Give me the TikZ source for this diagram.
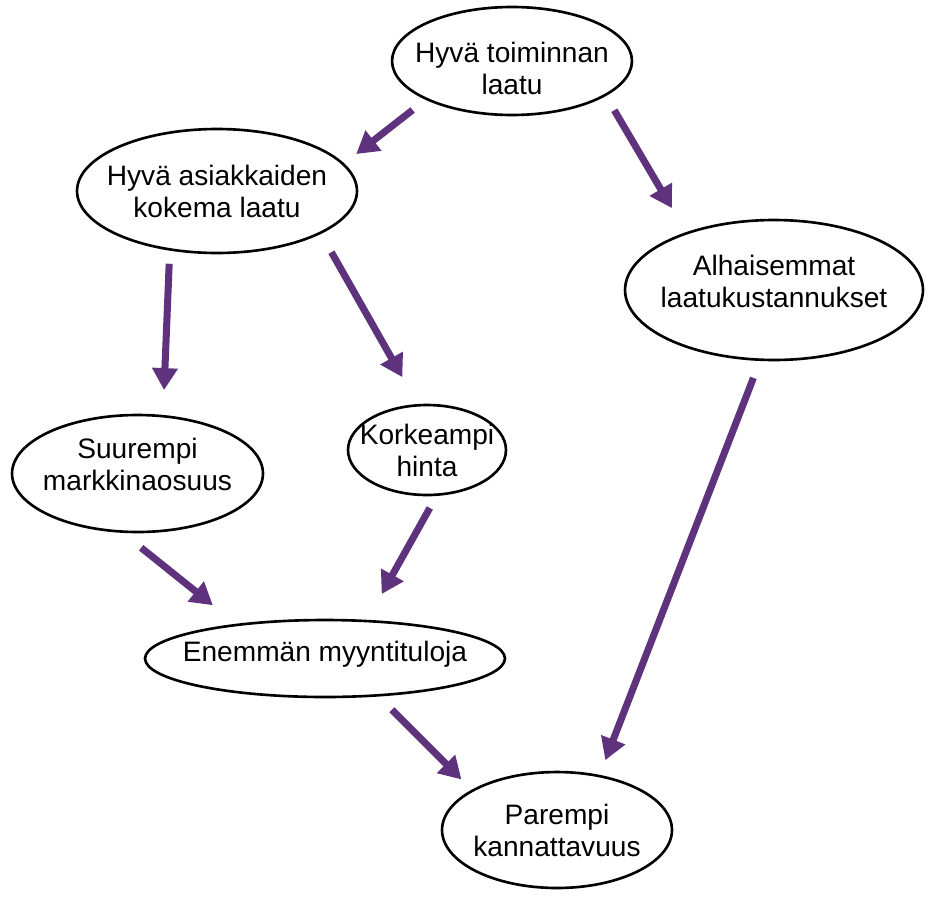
\documentclass[tikz,border=0pt]{standalone}
\usepackage{fontspec}
\setmainfont{Liberation Sans}
\usetikzlibrary{shapes.geometric}
\usetikzlibrary{arrows.meta}
\definecolor{vio}{RGB}{95,50,125}
\newcommand{\ovaltxt}[1]{\hbox to 0pt{\hss\begin{tabular}[b]{@{}c@{}}#1\end{tabular}\hss}}

\tikzset{
  oval/.style={ellipse, draw, line width=1.5pt, inner sep=0pt, outer sep=0pt,
    font=\fontsize{16}{18.2}\selectfont, text height=29.7pt, text depth=0pt},
  arr/.style={draw=vio, line width=4pt, -{Triangle[length=12.5pt,width=14pt]}}
}

\begin{document}
\begin{tikzpicture}[x=0.02cm, y=-0.02cm]
	\useasboundingbox (0,0) rectangle (928,906);
	% ellipses
	\node[oval, minimum width=4.8cm, minimum height=2.16cm, text height=37.7pt] (toiminta) at (512,61) {\ovaltxt{Hyvä toiminnan\\laatu}};
	\node[oval, minimum width=5.6cm, minimum height=2.48cm] (asiakas) at (217,191) {\ovaltxt{Hyvä asiakkaiden\\kokema laatu}};
	\node[oval, minimum width=5.96cm, minimum height=2.8cm, text depth=9.6pt] (kustannus) at (774,290) {\ovaltxt{Alhaisemmat\\laatukustannukset}};
	\node[oval, minimum width=5.02cm, minimum height=2.34cm, text depth=10.8pt] (markkina) at (137.5,473.5) {\ovaltxt{Suurempi\\markkinaosuus}};
	\node[oval, minimum width=3.16cm, minimum height=1.8cm] (hinta) at (427,450) {\ovaltxt{Korkeampi\\hinta}};
	\node[oval, minimum width=7.2cm, minimum height=1.54cm, text height=11.5pt, text depth=8pt] (myynti) at (325,658.5) {\ovaltxt{Enemmän myyntituloja}};
	\node[oval, minimum width=4.6cm, minimum height=2.32cm] (kannatt) at (557,830) {\ovaltxt{Parempi\\kannattavuus}};
	% arrows
	\draw[arr, shorten <=10.2pt, shorten >=9.4pt] (toiminta.204.4) -- (asiakas.12.7);
	\draw[arr, shorten <=10.1pt, shorten >=16.6pt] (toiminta.340.4) -- (kustannus.147);
	\draw[arr, shorten <=8.2pt, shorten >=14.9pt] (asiakas.231.6) -- (markkina.66.2);
	\draw[arr, shorten <=12.7pt, shorten >=18.4pt] (asiakas.338.3) -- (hinta.101.6);
	\draw[arr, shorten <=11.1pt, shorten >=9.7pt] (kustannus.259.5) -- (kannatt.52.3);
	\draw[arr, shorten <=14.8pt, shorten >=17.9pt] (markkina.254.9) -- (myynti.159.2);
	\draw[arr, shorten <=8.7pt, shorten >=17.6pt] (hinta.283.4) -- (myynti.42.7);
	\draw[arr, shorten <=11.6pt, shorten >=9pt] (myynti.325.1) -- (kannatt.155.8);
\end{tikzpicture}
\end{document}
